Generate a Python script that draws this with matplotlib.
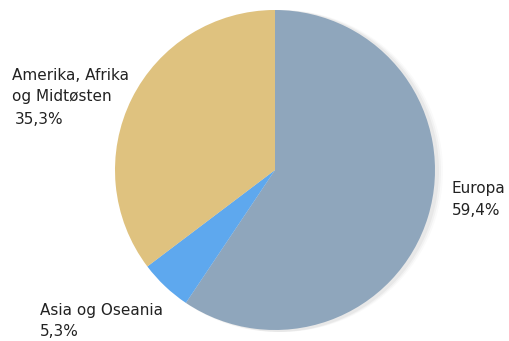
import matplotlib.pyplot as plt
from matplotlib.patches import Circle

# regions, clockwise from 12 o'clock
regions = ["Europa", "Asia og Oseania", "Amerika, Afrika\nog Midtøsten"]
shares = [59.4, 5.3, 35.3]
share_labels = ["59,4%", "5,3%", "35,3%"]
colors = ["#8fa6bc", "#5ea8ee", "#dfc27f"]

W, H = 510, 341
fig = plt.figure(figsize=(W / 100, H / 100), dpi=100)
ax = fig.add_axes([0, 0, 1, 1])

cx, cy, r = 275, H - 170, 160

# soft shadow on the right side
for i, a in enumerate([0.04, 0.03, 0.02]):
    ax.add_patch(Circle((cx + 3 + i * 2, cy - 1), r + 1, color="black", alpha=a, lw=0))

ax.pie(shares, colors=colors, startangle=90, counterclock=False,
       center=(cx, cy), radius=r, frame=True,
       wedgeprops=dict(linewidth=0))
ax.set_xlim(0, W)
ax.set_ylim(0, H)
ax.set_aspect("equal")
ax.axis("off")

txt = dict(fontsize=11, color="#222222", family="DejaVu Sans", linespacing=1.5)
ax.text(452, H - 189, regions[0], va="center", ha="left", **txt)
ax.text(452, H - 211, share_labels[0], va="center", ha="left", **txt)
ax.text(40, H - 310, regions[1], va="center", ha="left", **txt)
ax.text(40, H - 332, share_labels[1], va="center", ha="left", **txt)
ax.text(12, H - 86, regions[2], va="center", ha="left", **txt)
ax.text(15, H - 120, share_labels[2], va="center", ha="left", **txt)

fig.savefig("out.png", dpi=100)
